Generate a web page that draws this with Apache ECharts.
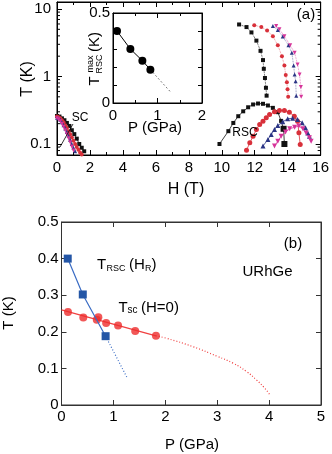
<!DOCTYPE html>
<html><head><meta charset="utf-8">
<script src="https://cdn.jsdelivr.net/npm/echarts/dist/echarts.min.js"></script>
<style>html,body{margin:0;padding:0;background:#fff}#c{width:332px;height:454px}</style>
</head><body><div id="c"></div>
<script>
// ---------- Panel (a): T vs H (log T) ----------
const hTicks = [0, 2, 4, 6, 8, 10, 12, 14, 16];
const tMajor = [0.1, 1, 10];
const tMinor = [0.08, 0.09, 0.2, 0.3, 0.4, 0.5, 0.6, 0.7, 0.8, 0.9, 2, 3, 4, 5, 6, 7, 8, 9];

// low-field SC curves
const blkScH = [0, 0.15, 0.3, 0.45, 0.6, 0.75, 0.9, 1.05, 1.2, 1.35, 1.5, 1.65];
const blkScT = [0.26, 0.255, 0.24, 0.225, 0.205, 0.185, 0.16, 0.14, 0.12, 0.10, 0.088, 0.078];
const redScH = [0, 0.1, 0.2, 0.3, 0.4, 0.5, 0.6, 0.7, 0.8, 0.9, 1.0, 1.1, 1.2, 1.3, 1.4, 1.5];
const redScT = [0.255, 0.25, 0.24, 0.225, 0.21, 0.19, 0.172, 0.155, 0.14, 0.125, 0.112, 0.1, 0.09, 0.082, 0.075, 0.07];
const bluScH = [0, 0.1, 0.2, 0.3, 0.4, 0.5, 0.6, 0.7, 0.8, 0.9, 1.0, 1.1];
const bluScT = [0.245, 0.24, 0.228, 0.21, 0.19, 0.17, 0.15, 0.132, 0.115, 0.1, 0.088, 0.078];
const magScH = [0, 0.1, 0.2, 0.3, 0.4, 0.5, 0.6, 0.7, 0.8, 0.9, 1.0];
const magScT = [0.24, 0.232, 0.218, 0.2, 0.18, 0.16, 0.14, 0.122, 0.106, 0.092, 0.08];

// high-field upper branches
const blkUpH = [11.05, 11.5, 11.8, 12.1, 12.35, 12.5, 12.55, 12.62, 12.68, 12.72];
const blkUpT = [5.9, 5.4, 4.5, 3.4, 2.4, 1.75, 1.3, 0.95, 0.68, 0.52];
const redUpH = [11.97, 12.4, 12.75, 13.1, 13.4, 13.65, 13.8, 13.88, 13.95, 13.99, 14.03];
const redUpT = [5.75, 5.4, 4.8, 3.95, 2.9, 2.0, 1.45, 1.05, 0.82, 0.65, 0.5];
const bluUpH = [13.1, 13.4, 13.7, 14.05, 14.25, 14.36, 14.42, 14.48, 14.52];
const bluUpT = [5.6, 4.9, 3.9, 2.9, 2.25, 1.45, 1.07, 0.85, 0.52];
const magUpH = [13.3, 13.5, 13.8, 14.15, 14.42, 14.6, 14.72, 14.8, 14.82];
const magUpT = [5.6, 5.0, 3.95, 2.9, 2.25, 1.5, 1.07, 0.7, 0.5];

// RSC domes
const blkDomeH = [9.86, 10.4, 10.7, 11.0, 11.3, 11.6, 11.9, 12.2, 12.5, 12.8, 13.1, 13.4, 13.6, 13.75, 13.8];
const blkDomeT = [0.10, 0.155, 0.205, 0.258, 0.305, 0.35, 0.385, 0.398, 0.394, 0.372, 0.343, 0.296, 0.22, 0.168, 0.10];
const redDomeH = [11.5, 11.7, 11.9, 12.1, 12.3, 12.5, 12.7, 12.9, 13.2, 13.5, 13.8, 14.1, 14.4, 14.6, 14.68, 14.76];
const redDomeT = [0.081, 0.104, 0.13, 0.164, 0.195, 0.218, 0.244, 0.274, 0.30, 0.313, 0.313, 0.296, 0.258, 0.218, 0.147, 0.098];
const bluDomeH = [12.5, 12.8, 13.0, 13.2, 13.4, 13.7, 14.0, 14.3, 14.6, 14.88, 15.08, 15.22, 15.32];
const bluDomeT = [0.093, 0.117, 0.138, 0.164, 0.188, 0.213, 0.236, 0.241, 0.231, 0.206, 0.174, 0.146, 0.13];
const magDomeH = [13.2, 13.4, 13.6, 13.87, 14.12, 14.42, 14.68, 14.92, 15.12, 15.32, 15.42];
const magDomeT = [0.093, 0.11, 0.13, 0.15, 0.168, 0.177, 0.184, 0.168, 0.146, 0.124, 0.11];

// inset: T_RSC^max vs P
const insP = [0.09, 0.39, 0.66, 0.84];
const insT = [0.40, 0.30, 0.235, 0.185];
const insExtP = [0.84, 1.32];
const insExtT = [0.185, 0.054];

// ---------- Panel (b): T vs P ----------
const rscP = [0.12, 0.41, 0.85];
const rscT = [0.40, 0.302, 0.188];
const rscExtP = [0.85, 1.27];
const rscExtT = [0.188, 0.073];
const scP = [0.125, 0.42, 0.68, 0.71, 0.86, 1.09, 1.42, 1.82];
const scT = [0.254, 0.239, 0.233, 0.24, 0.224, 0.217, 0.2025, 0.189];
const scFitP = [0, 1.82];
const scFitT = [0.26, 0.189];
const scExtP = [1.82, 2.03, 2.54, 3.0, 3.31, 3.57, 3.76, 3.89, 4.01];
const scExtT = [0.189, 0.182, 0.159, 0.133, 0.114, 0.091, 0.068, 0.05, 0.029];

const zip = (a, b) => a.map((v, i) => [v, b[i]]);
const FONT = 'Liberation Sans, Arial, Helvetica, sans-serif';

const BLK = '#111111', RED = '#d8303a', BLU = '#2b3585', MAG = '#d6349a';

function linAxis(o) {
  return Object.assign({
    type: 'value',
    axisLine: { show: true, onZero: false, lineStyle: { color: o.lc || '#000', width: 1 } },
    axisTick: { show: true, inside: true, length: 5, lineStyle: { color: o.lc || '#000' } },
    splitLine: { show: false },
    axisLabel: { show: !o.mirror, color: '#000', fontFamily: FONT, fontSize: 15, margin: o.margin || 5 }
  }, o.extra || {});
}

const chart = echarts.init(document.getElementById('c'), null, { renderer: 'canvas' });

const logLabel = v => {
  const l = Math.log10(v);
  return Math.abs(l - Math.round(l)) < 1e-6 ? String(+v.toPrecision(3)) : '';
};

const LOGMIN = 0.0687, LOGMAX = 12.7;

function series(name, H, T, color, symbol, opt) {
  return Object.assign({
    type: 'line', name: name, xAxisIndex: 0, yAxisIndex: 0,
    data: zip(H, T), symbol: symbol, symbolSize: 4,
    itemStyle: { color: color }, lineStyle: { color: color, width: 0.8 },
    animation: false, clip: true, z: 3
  }, opt || {});
}

const option = {
  animation: false,
  backgroundColor: '#fff',
  grid: [
    { left: 57, top: 2, width: 266, height: 153, show: true, borderColor: '#000', borderWidth: 1, backgroundColor: '#fff' },
    { left: 113, top: 13, width: 89, height: 90, show: true, borderColor: '#000', borderWidth: 1, backgroundColor: '#fff', z: 5 },
    { left: 61.5, top: 222, width: 259.5, height: 183, show: true, borderColor: '#333', borderWidth: 1, backgroundColor: '#fff' }
  ],
  xAxis: [
    linAxis({ extra: { gridIndex: 0, position: 'bottom', min: hTicks[0], max: hTicks[hTicks.length - 1], interval: 2,
      minorTick: { show: true, splitNumber: 2, length: 3, lineStyle: { color: '#000' } } } }),
    linAxis({ mirror: true, extra: { gridIndex: 0, position: 'top', min: 0, max: 16, interval: 2,
      minorTick: { show: true, splitNumber: 2, length: 3, lineStyle: { color: '#000' } } } }),
    linAxis({ margin: 5, extra: { gridIndex: 1, position: 'bottom', min: 0, max: 2, interval: 1, z: 6,
      minorTick: { show: true, splitNumber: 2, length: 3, lineStyle: { color: '#000' } } } }),
    linAxis({ mirror: true, extra: { gridIndex: 1, position: 'top', min: 0, max: 2, interval: 1, z: 6,
      minorTick: { show: true, splitNumber: 2, length: 3, lineStyle: { color: '#000' } } } }),
    linAxis({ lc: '#333', margin: 4, extra: { gridIndex: 2, position: 'bottom', min: 0, max: 5, interval: 1 } }),
    linAxis({ lc: '#333', mirror: true, extra: { gridIndex: 2, position: 'top', min: 0, max: 5, interval: 1 } })
  ],
  yAxis: [
    { type: 'log', logBase: 10, gridIndex: 0, position: 'left', min: LOGMIN, max: LOGMAX,
      axisLine: { show: true, onZero: false, lineStyle: { color: '#000' } },
      axisTick: { show: true, inside: true, length: 5, lineStyle: { color: '#000' } },
      splitLine: { show: false },
      axisLabel: { color: '#000', fontFamily: FONT, fontSize: 15, margin: 6, formatter: logLabel, showMinLabel: false, showMaxLabel: false } },
    { type: 'log', logBase: 10, gridIndex: 0, position: 'right', min: LOGMIN, max: LOGMAX,
      axisLine: { show: true, onZero: false, lineStyle: { color: '#000' } },
      axisTick: { show: true, inside: true, length: 5, lineStyle: { color: '#000' } },
      splitLine: { show: false }, axisLabel: { show: false } },
    linAxis({ margin: 3, extra: { gridIndex: 1, position: 'left', min: 0, max: 0.5, interval: 0.5, z: 6,
      minorTick: { show: true, splitNumber: 5, length: 4, lineStyle: { color: '#000' } } } }),
    linAxis({ mirror: true, extra: { gridIndex: 1, position: 'right', min: 0, max: 0.5, interval: 0.5, z: 6,
      minorTick: { show: true, splitNumber: 5, length: 4, lineStyle: { color: '#000' } } } }),
    linAxis({ lc: '#333', margin: 3, extra: { gridIndex: 2, position: 'left', min: 0, max: 0.5, interval: 0.1 } }),
    linAxis({ lc: '#333', mirror: true, extra: { gridIndex: 2, position: 'right', min: 0, max: 0.5, interval: 0.1 } })
  ],
  series: [
    // minor log ticks on both vertical edges of panel (a)
    { type: 'custom', xAxisIndex: 0, yAxisIndex: 0, data: tMinor.map(v => [hTicks[0], v]), silent: true, z: 4,
      renderItem: function (params, api) {
        const v = api.value(1);
        const a = api.coord([hTicks[0], v]);
        const b = api.coord([hTicks[hTicks.length - 1], v]);
        return { type: 'group', children: [
          { type: 'line', shape: { x1: a[0], y1: a[1], x2: a[0] + 3, y2: a[1] }, style: { stroke: '#000', lineWidth: 1 } },
          { type: 'line', shape: { x1: b[0] - 3, y1: b[1], x2: b[0], y2: b[1] }, style: { stroke: '#000', lineWidth: 1 } }
        ] };
      } },
    series('blkSc', blkScH, blkScT, BLK, 'rect', { symbolSize: 4 }),
    series('redSc', redScH, redScT, RED, 'circle', { lineStyle: { color: RED, width: 0.8, type: 'dotted' } }),
    series('bluSc', bluScH, bluScT, BLU, 'triangle'),
    series('magSc', magScH, magScT, MAG, 'triangle', { symbolRotate: 180 }),
    series('blkUp', blkUpH, blkUpT, BLK, 'rect', { lineStyle: { color: BLK, width: 0.8, type: 'dotted' } }),
    series('redUp', redUpH, redUpT, RED, 'circle', { lineStyle: { color: '#e8707a', width: 0.8, type: 'dotted' } }),
    series('bluUp', bluUpH, bluUpT, BLU, 'triangle', { lineStyle: { color: '#6a70a8', width: 0.8, type: 'dotted' } }),
    series('magUp', magUpH, magUpT, MAG, 'triangle', { symbolRotate: 180, lineStyle: { color: '#e070b8', width: 0.8, type: 'dotted' } }),
    series('blkDome', blkDomeH, blkDomeT, BLK, 'rect', { symbolSize: (v) => (v[0] > 13.5 && v[1] < 0.2) ? 6 : 4 }),
    series('redDome', redDomeH, redDomeT, RED, 'circle', { symbolSize: 5 }),
    series('bluDome', bluDomeH, bluDomeT, BLU, 'triangle', { symbolSize: 5 }),
    series('magDome', magDomeH, magDomeT, MAG, 'triangle', { symbolSize: 5, symbolRotate: 180 }),
    // inset
    { type: 'line', xAxisIndex: 2, yAxisIndex: 2, data: zip(insP, insT), symbol: 'circle', symbolSize: 8,
      itemStyle: { color: '#000' }, lineStyle: { color: '#000', width: 1 }, z: 7 },
    { type: 'line', xAxisIndex: 2, yAxisIndex: 2, data: zip(insExtP, insExtT), symbol: 'none',
      lineStyle: { color: '#000', width: 1, type: [1, 3] }, z: 7 },
    // panel (b)
    { type: 'line', xAxisIndex: 4, yAxisIndex: 4, data: zip(scFitP, scFitT), symbol: 'none',
      lineStyle: { color: '#f04040', width: 1.2 }, z: 3 },
    { type: 'line', xAxisIndex: 4, yAxisIndex: 4, data: zip(scExtP, scExtT), symbol: 'none', smooth: true,
      lineStyle: { color: '#f04040', width: 1.2, type: [1, 2] }, z: 3 },
    { type: 'scatter', xAxisIndex: 4, yAxisIndex: 4, data: zip(scP, scT), symbol: 'circle', symbolSize: 8,
      itemStyle: { color: '#ee2d2d' }, z: 4 },
    { type: 'line', xAxisIndex: 4, yAxisIndex: 4, data: zip(rscP, rscT), symbol: 'rect', symbolSize: 8,
      itemStyle: { color: '#2456a6' }, lineStyle: { color: '#3a6cc4', width: 1.2 }, z: 5 },
    { type: 'line', xAxisIndex: 4, yAxisIndex: 4, data: zip(rscExtP, rscExtT), symbol: 'none',
      lineStyle: { color: '#3a6cc4', width: 1.2, type: [1, 2] }, z: 3 }
  ],
  graphic: [
    // panel (a) texts
    { type: 'text', x: 28, y: 79, rotation: Math.PI / 2, style: { text: 'T (K)', font: '16px ' + FONT, fill: '#000', align: 'center', verticalAlign: 'middle' } },
    { type: 'text', x: 186, y: 190, style: { text: 'H (T)', font: '16px ' + FONT, fill: '#000', align: 'center', verticalAlign: 'middle' } },
    { type: 'text', x: 306, y: 15, style: { text: '(a)', font: '15px ' + FONT, fill: '#000', align: 'center', verticalAlign: 'middle' } },
    { type: 'text', x: 80, y: 118, style: { text: 'SC', font: '12px ' + FONT, fill: '#000', align: 'center', verticalAlign: 'middle' } },
    { type: 'line', shape: { x1: 73, y1: 124, x2: 60, y2: 147 }, style: { stroke: '#000', lineWidth: 0.8 }, z: 10 },
    { type: 'text', x: 245, y: 133, z: 10, style: { text: 'RSC', font: '12px ' + FONT, fill: '#000', align: 'center', verticalAlign: 'middle' } },
    // inset texts
    { type: 'text', x: 155, y: 128, style: { text: 'P (GPa)', font: '15px ' + FONT, fill: '#000', align: 'center', verticalAlign: 'middle' } },
    { type: 'text', x: 95, y: 81, rotation: Math.PI / 2, style: { text: 'T', font: '15px ' + FONT, fill: '#000', align: 'center', verticalAlign: 'middle' } },
    { type: 'text', x: 90.5, y: 64, rotation: Math.PI / 2, style: { text: 'max', font: '9px ' + FONT, fill: '#000', align: 'center', verticalAlign: 'middle' } },
    { type: 'text', x: 100, y: 64, rotation: Math.PI / 2, style: { text: 'RSC', font: '9px ' + FONT, fill: '#000', align: 'center', verticalAlign: 'middle' } },
    { type: 'text', x: 95, y: 42, rotation: Math.PI / 2, style: { text: '(K)', font: '15px ' + FONT, fill: '#000', align: 'center', verticalAlign: 'middle' } },
    // panel (b) texts
    { type: 'text', x: 9, y: 313, rotation: Math.PI / 2, style: { text: 'T (K)', font: '15px ' + FONT, fill: '#000', align: 'center', verticalAlign: 'middle' } },
    { type: 'text', x: 192, y: 445, style: { text: 'P (GPa)', font: '15px ' + FONT, fill: '#000', align: 'center', verticalAlign: 'middle' } },
    { type: 'text', x: 293, y: 244, style: { text: '(b)', font: '15px ' + FONT, fill: '#000', align: 'center', verticalAlign: 'middle' } },
    { type: 'text', x: 267.5, y: 272, style: { text: 'URhGe', font: '15px ' + FONT, fill: '#000', align: 'center', verticalAlign: 'middle' } },
    { type: 'text', x: 97, y: 265, style: { text: 'T', font: '15px ' + FONT, fill: '#000', align: 'left', verticalAlign: 'middle' } },
    { type: 'text', x: 106.5, y: 269, style: { text: 'RSC', font: '9px ' + FONT, fill: '#000', align: 'left', verticalAlign: 'middle' } },
    { type: 'text', x: 129, y: 265, style: { text: '(H', font: '15px ' + FONT, fill: '#000', align: 'left', verticalAlign: 'middle' } },
    { type: 'text', x: 145, y: 269, style: { text: 'R', font: '9px ' + FONT, fill: '#000', align: 'left', verticalAlign: 'middle' } },
    { type: 'text', x: 151.5, y: 265, style: { text: ')', font: '15px ' + FONT, fill: '#000', align: 'left', verticalAlign: 'middle' } },
    { type: 'text', x: 118.5, y: 307.5, style: { text: 'T', font: '15px ' + FONT, fill: '#000', align: 'left', verticalAlign: 'middle' } },
    { type: 'text', x: 127.5, y: 310.5, style: { text: 'sc', font: '10px ' + FONT, fill: '#000', align: 'left', verticalAlign: 'middle' } },
    { type: 'text', x: 141, y: 307.5, style: { text: '(H=0)', font: '15px ' + FONT, fill: '#000', align: 'left', verticalAlign: 'middle' } }
  ]
};
chart.setOption(option);
</script></body></html>
